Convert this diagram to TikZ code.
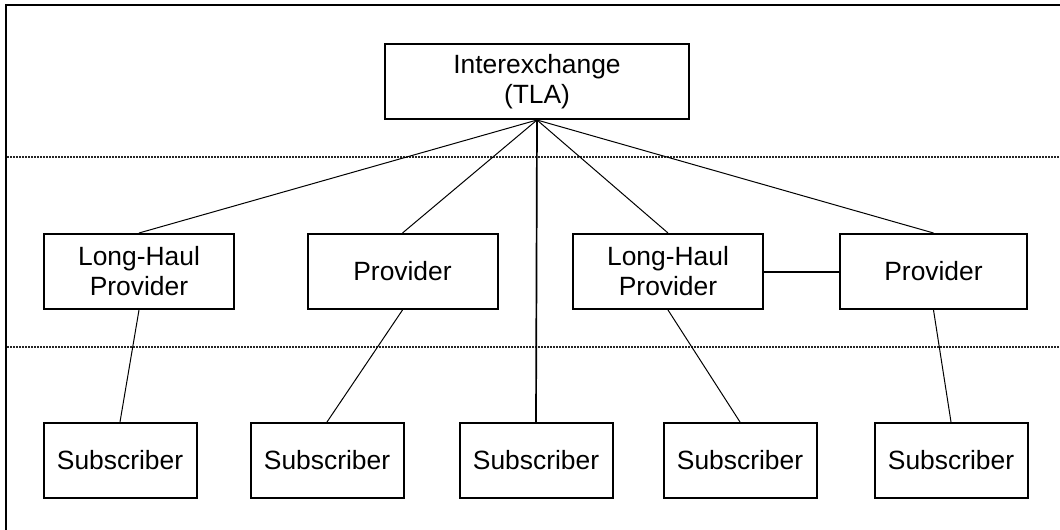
\documentclass[tikz,border=0pt]{standalone}
\usepackage{fontspec}
\setmainfont{Liberation Sans}
\begin{document}
\begin{tikzpicture}[x=1pt,y=-1pt,
  box/.style={draw,line width=2pt,rectangle,inner sep=0pt,align=center,
    font=\fontsize{26.4}{30}\selectfont},
  wide/.style={box,minimum width=190pt,minimum height=75pt},
  sub/.style={box,minimum width=153pt,minimum height=75pt},
  link/.style={line width=1pt},
  tier/.style={line width=1.3pt,dash pattern=on 2pt off 1pt,black!85}]
\useasboundingbox (0,0) rectangle (1060,530);
% frame
\draw[line width=2.2pt] (6,530) -- (6,5) -- (1060,5);
% tier separators
\draw[tier] (7,157) -- (1060,157);
\draw[tier] (7,347) -- (1060,347);
% nodes
\node[box,minimum width=304pt,minimum height=75pt] (tla) at (537,81.5) {Interexchange\\(TLA)};
\coordinate (apex) at (tla.south);
\node[wide] (lhp1) at (139,271.5) {Long-Haul\\Provider};
\node[wide] (p1) at (402.5,271.5) {Provider};
\node[wide] (lhp2) at (668,271.5) {Long-Haul\\Provider};
\node[box,minimum width=187pt,minimum height=75pt] (p2) at (933.5,271.5) {Provider};
\node[sub] (s1) at (120,460.5) {Subscriber};
\node[sub] (s2) at (327,460.5) {Subscriber};
\node[sub] (s3) at (536,460.5) {Subscriber};
\node[sub] (s4) at (740,460.5) {Subscriber};
\node[sub] (s5) at (951,460.5) {Subscriber};
% connectors
\draw[link] (apex) -- (lhp1.north);
\draw[link] (apex) -- (p1.north);
\draw[link,line width=1.7pt] (apex) -- (s3.north);
\draw[link] (apex) -- (lhp2.north);
\draw[link] (apex) -- (p2.north);
\draw[link] (lhp1.south) -- (s1.north);
\draw[link] (p1.south) -- (s2.north);
\draw[link] (lhp2.south) -- (s4.north);
\draw[link] (p2.south) -- (s5.north);
\draw[line width=2pt] (lhp2.east) -- (p2.west);
\end{tikzpicture}
\end{document}
